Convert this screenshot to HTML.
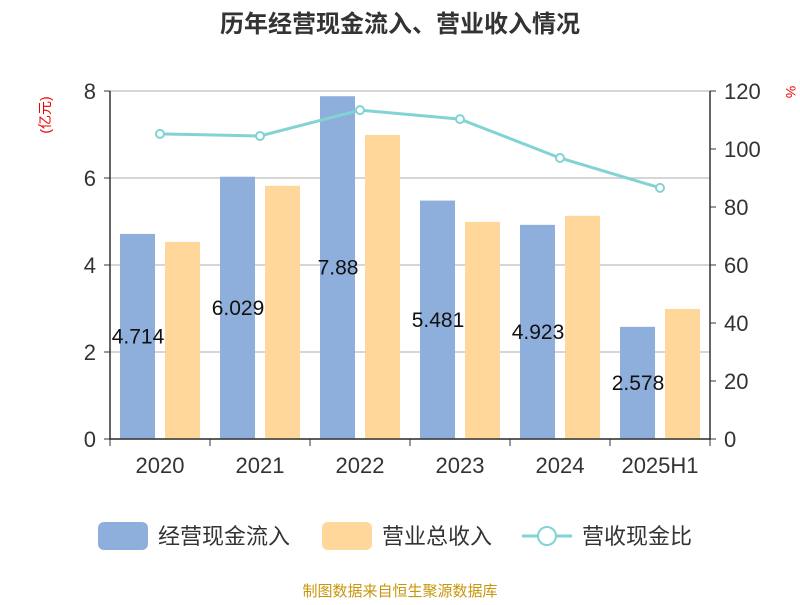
<!DOCTYPE html>
<html><head><meta charset="utf-8"><style>
body{margin:0;background:#fff;font-family:"Liberation Sans","Noto Sans CJK SC",sans-serif}
</style></head><body>
<svg id="chart" width="800" height="600" xmlns="http://www.w3.org/2000/svg" font-family="Liberation Sans, Noto Sans CJK SC, sans-serif">
<text x="400" y="32" text-anchor="middle" font-size="24" font-weight="bold" fill="#333">历年经营现金流入、营业收入情况</text>
<text x="50" y="115" transform="rotate(-90 50 115)" text-anchor="middle" font-size="14" fill="#e00">(亿元)</text>
<text x="786" y="92" transform="rotate(90 786 92)" text-anchor="middle" font-size="14" fill="#e00">%</text>
<g id="grid"></g><g id="bars"></g><g id="line"></g><g id="axes"></g>
<g>
<rect x="98" y="522" width="50" height="28" rx="6" fill="#8eaedb"/>
<text x="158" y="544" font-size="22" fill="#333">经营现金流入</text>
<rect x="322" y="522" width="50" height="28" rx="6" fill="#ffd79a"/>
<text x="382" y="544" font-size="22" fill="#333">营业总收入</text>
<line x1="522" y1="536" x2="572" y2="536" stroke="#82d3d3" stroke-width="3"/>
<circle cx="547" cy="536" r="9" fill="#fff" stroke="#82d3d3" stroke-width="2"/>
<text x="582" y="544" font-size="22" fill="#333">营收现金比</text>
</g>
<text x="400" y="596" text-anchor="middle" font-size="15" fill="#c8960c">制图数据来自恒生聚源数据库</text>
</svg>
<script>
const categories=["2020","2021","2022","2023","2024","2025H1"];
const cashInflow=[4.714,6.029,7.88,5.481,4.923,2.578];
const revenue=[4.53,5.82,6.99,4.99,5.13,2.99];
const ratio=[105.2,104.5,113.4,110.3,96.9,86.6];
const leftTicks=[0,2,4,6,8];
const rightTicks=[0,20,40,60,80,100,120];
const NS="http://www.w3.org/2000/svg";
const L=110,R=710,T=91,B=439;
const yL=v=>B-(v/8)*(B-T);
const yR=v=>B-(v/120)*(B-T);
const band=(R-L)/categories.length;
const xc=i=>L+band*i+band/2;
function mk(tag,attrs,parent,text){const e=document.createElementNS(NS,tag);for(const k in attrs)e.setAttribute(k,attrs[k]);if(text!=null)e.textContent=text;document.getElementById(parent).appendChild(e);return e;}
leftTicks.forEach(v=>{
  const g=mk("line",{x1:L,x2:R,y1:yL(v),y2:yL(v),stroke:"#c8c8c8","stroke-width":1.5},"grid");
  
  
  const t=mk("text",{x:L-14,y:yL(v)+8,"text-anchor":"end","font-size":22,fill:"#333"},"axes",v);
  
  
  const k=mk("line",{x1:L-6,x2:L,y1:yL(v),y2:yL(v),stroke:"#333"},"axes");
  
  
});
rightTicks.forEach(v=>{
  const t=mk("text",{x:R+14,y:yR(v)+8,"font-size":22,fill:"#333"},"axes",v);
  
  
  const k=mk("line",{x1:R,x2:R+6,y1:yR(v),y2:yR(v),stroke:"#333"},"axes");
  
  
});
categories.forEach((c,i)=>{
  const b1=mk("rect",{x:xc(i)-40,y:yL(cashInflow[i]),width:35,height:B-yL(cashInflow[i]),fill:"#8eaedb"},"bars");
  
  
  const b2=mk("rect",{x:xc(i)+5,y:yL(revenue[i]),width:35,height:B-yL(revenue[i]),fill:"#ffd79a"},"bars");
  
  
  const lb=mk("text",{x:xc(i)-22,y:(yL(cashInflow[i])+B)/2+7,"text-anchor":"middle","font-size":21,fill:"#111"},"bars",cashInflow[i]);
  
  
  const xl=mk("text",{x:xc(i),y:B+34,"text-anchor":"middle","font-size":22,fill:"#333"},"axes",c);
  
  
});
for(let i=0;i<=categories.length;i++){
  const k=mk("line",{x1:L+band*i,x2:L+band*i,y1:B,y2:B+7,stroke:"#333"},"axes");
  
  
}
const ax=[[L,T,L,B+1],[R,T,R,B+1],[L,B,R,B]];
ax.forEach(a=>{const e=mk("line",{x1:a[0],y1:a[1],x2:a[2],y2:a[3],stroke:"#333","stroke-width":1.5},"axes");
  
  });
const pl=mk("polyline",{points:ratio.map((v,i)=>xc(i)+","+yR(v)).join(" "),fill:"none",stroke:"#82d3d3","stroke-width":3},"line");


ratio.forEach((v,i)=>{const p=mk("circle",{cx:xc(i),cy:yR(v),r:4,fill:"#fff",stroke:"#82d3d3","stroke-width":2},"line");
  
  });
</script>
</body></html>
